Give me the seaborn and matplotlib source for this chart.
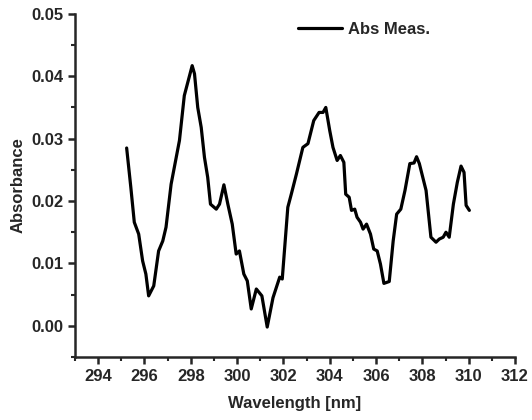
import numpy as np
import pandas as pd
import matplotlib.pyplot as plt
import seaborn as sns

# values
wavelength = [295.23, 295.41, 295.56, 295.75, 295.92, 296.06, 296.18, 296.40, 296.61, 296.79,
              296.93, 297.15, 297.51, 297.72, 298.06, 298.16, 298.30, 298.45, 298.59, 298.73,
              298.85, 299.10, 299.24, 299.43, 299.60, 299.79, 299.96, 300.10, 300.29, 300.44,
              300.61, 300.83, 301.07, 301.30, 301.55, 301.84, 301.95, 302.19, 302.34, 302.56,
              302.84, 303.06, 303.31, 303.54, 303.71, 303.83, 304.00, 304.14, 304.32, 304.46,
              304.61, 304.69, 304.84, 304.94, 305.08, 305.18, 305.33, 305.44, 305.59, 305.76,
              305.90, 306.05, 306.19, 306.34, 306.57, 306.74, 306.89, 307.07, 307.25, 307.46,
              307.64, 307.75, 307.87, 308.16, 308.37, 308.59, 308.73, 308.90, 309.02, 309.16,
              309.34, 309.51, 309.67, 309.80, 309.89, 310.03]
absorbance = [0.0285, 0.0222, 0.0166, 0.0147, 0.0104, 0.0083, 0.0048, 0.0064, 0.0120, 0.0136,
              0.0158, 0.0227, 0.0297, 0.0369, 0.0417, 0.0404, 0.0350, 0.0318, 0.0270, 0.0238,
              0.0195, 0.0187, 0.0195, 0.0226, 0.0195, 0.0163, 0.0115, 0.0120, 0.0083, 0.0072,
              0.0027, 0.0059, 0.0048, -0.0002, 0.0045, 0.0078, 0.0075, 0.0190, 0.0211, 0.0243,
              0.0286, 0.0292, 0.0329, 0.0342, 0.0342, 0.0350, 0.0313, 0.0286, 0.0265, 0.0273,
              0.0262, 0.0211, 0.0206, 0.0185, 0.0187, 0.0174, 0.0166, 0.0155, 0.0163, 0.0147,
              0.0123, 0.0120, 0.0099, 0.0068, 0.0071, 0.0136, 0.0179, 0.0187, 0.0217, 0.0260,
              0.0261, 0.0271, 0.0260, 0.0217, 0.0142, 0.0134, 0.0139, 0.0142, 0.0150, 0.0142,
              0.0195, 0.0230, 0.0256, 0.0246, 0.0193, 0.0185]

df = pd.DataFrame({"Wavelength": wavelength, "Absorbance": absorbance})

sns.set_style("ticks")
plt.rcParams['font.family'] = ['Liberation Sans', 'DejaVu Sans']
plt.rcParams['font.weight'] = 'bold'

fig = plt.figure(figsize=(5.32, 4.2), dpi=100)
ax = fig.add_axes([0.141, 0.15, 0.827, 0.817])

sns.lineplot(data=df, x="Wavelength", y="Absorbance", color="black", linewidth=2.3,
             label="Abs Meas.", ax=ax, sort=False)

ax.set_xlim(293, 312)
ax.set_ylim(-0.005, 0.05)
ax.set_xticks(np.arange(294, 313, 2))
ax.set_xticks(np.arange(293, 313, 1), minor=True)
ax.set_yticks([0.0, 0.01, 0.02, 0.03, 0.04, 0.05])
ax.set_yticks(np.arange(-0.005, 0.051, 0.005), minor=True)
ax.set_yticklabels(["0.00", "0.01", "0.02", "0.03", "0.04", "0.05"])

for s in ["top", "right"]:
    ax.spines[s].set_visible(False)
for s in ["left", "bottom"]:
    ax.spines[s].set_linewidth(1.8)
ax.tick_params(which="major", length=5, width=1.8, labelsize=12, direction="out")
ax.tick_params(which="minor", length=3, width=1.5, direction="out")

ax.set_xlabel("Wavelength [nm]", fontsize=12, fontweight="bold", labelpad=9)
ax.set_ylabel("Absorbance", fontsize=12, fontweight="bold")

leg = ax.legend(loc="upper right", bbox_to_anchor=(0.842, 1.02), frameon=False,
                fontsize=12, handlelength=2.6, handletextpad=0.4)

fig.savefig("out.png", dpi=100)
